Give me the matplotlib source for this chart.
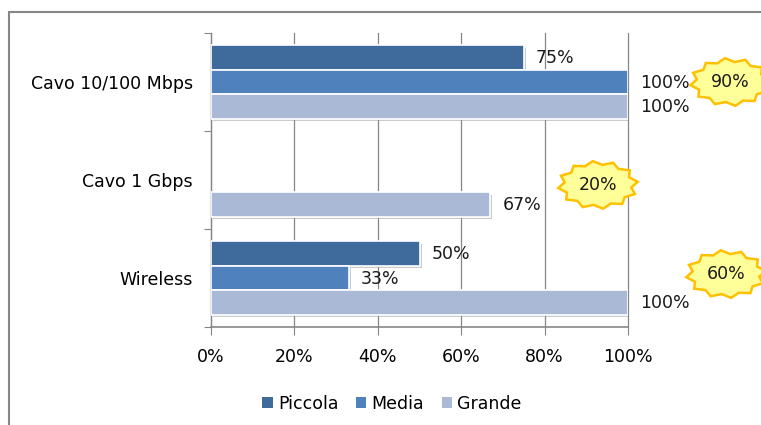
import numpy as np
import matplotlib.pyplot as plt
import matplotlib.patheffects as pe
from matplotlib import transforms
from matplotlib.patches import Polygon, Rectangle

# --------------------
# Data (bottom to top on the chart)
# --------------------
categories = ['Wireless', 'Cavo 1 Gbps', 'Cavo 10/100 Mbps']
piccola = [50, np.nan, 75]
media = [33, np.nan, 100]
grande = [100, 67, 100]
callouts = [60, 20, 90]
xticks = [0, 20, 40, 60, 80, 100]

series = [('Piccola', piccola, '#3F6A9C', 0.25),
          ('Media', media, '#4F81BD', 0.0),
          ('Grande', grande, '#A9B9D6', -0.25)]

plt.rcParams['font.family'] = 'DejaVu Sans'
plt.rcParams['font.size'] = 12.5

fig = plt.figure(figsize=(7.61, 4.25), dpi=100)
W, H = 761, 425

# outer chart frame
fig.patches.append(Rectangle((9 / W, -0.1), 1.0, (H - 12) / H + 0.1,
                             transform=fig.transFigure, fill=False,
                             edgecolor='#868686', lw=1.5))

ax = fig.add_axes([211 / W, 1 - 327 / H, (628 - 211) / W, (327 - 33) / H])
ax.set_xlim(0, 100)
ax.set_ylim(-0.5, 2.5)

y = np.arange(len(categories))
shadow = [pe.SimplePatchShadow(offset=(1.5, -1.5), shadow_rgbFace='#999999', alpha=0.5),
          pe.Normal()]

for name, vals, color, off in series:
    vals = np.array(vals, dtype=float)
    ok = ~np.isnan(vals)
    bars = ax.barh(y[ok] + off, vals[ok], height=0.245, color=color,
                   edgecolor='white', lw=1.2, label=name, zorder=3)
    for b in bars:
        b.set_path_effects(shadow)
    for yy, v in zip(y[ok] + off, vals[ok]):
        ax.text(v + 2.9, yy - 0.01, f'{v:.0f}%', va='center', ha='left',
                color='#1a1a1a', zorder=5)

# gridlines and axes
ax.set_xticks(xticks)
ax.set_xticklabels([f'{t}%' for t in xticks])
ax.grid(axis='x', color='#868686', lw=0.9, zorder=0)
for gl in ax.get_xgridlines():
    gl.set_clip_on(False)
ax.set_yticks([-0.5, 0.5, 1.5, 2.5])
ax.set_yticklabels([])
ax.set_yticks(y, minor=True)
ax.set_yticklabels(categories, minor=True)
ax.tick_params(axis='y', which='minor', length=0, pad=13)
ax.tick_params(axis='y', which='major', length=5, color='#868686')
ax.tick_params(axis='x', length=6, color='#868686', pad=9)
for s in ['top', 'right']:
    ax.spines[s].set_visible(False)
for s in ['left', 'bottom']:
    ax.spines[s].set_color('#868686')
ax.spines['bottom'].set_linewidth(1.2)
ax.spines['left'].set_linewidth(0.9)

# star-shaped callouts, drawn in inches around a data anchor
def star(n=12, rx=0.40, ry=0.24, inner=0.84):
    ang = np.linspace(0, 2 * np.pi, 2 * n, endpoint=False) + np.pi / (2 * n)
    r = np.where(np.arange(2 * n) % 2 == 0, 1.0, inner)
    return np.column_stack([rx * r * np.cos(ang), ry * r * np.sin(ang)])

callout_pos = [(123.5, 0.04), (92.8, 0.95), (124.5, 2.0)]
for (cx, cy), val in zip(callout_pos, callouts):
    tr = fig.dpi_scale_trans + transforms.ScaledTranslation(cx, cy, ax.transData)
    ax.add_patch(Polygon(star(), closed=True, transform=tr, facecolor='#FFFF99',
                         edgecolor='#FFC000', lw=1.8, clip_on=False, zorder=6))
    ax.text(cx, cy, f'{val}%', ha='center', va='center', zorder=7,
            clip_on=False, color='#1a1a1a')

leg = fig.legend(loc='center', bbox_to_anchor=(392 / W, 1 - 404 / H), ncol=3,
                 frameon=False, handlelength=0.6, handleheight=0.6,
                 handletextpad=0.3, columnspacing=1.0)
for h in leg.legend_handles:
    h.set_edgecolor('none')
    h.set_path_effects([])

fig.savefig('out.png', dpi=100)
